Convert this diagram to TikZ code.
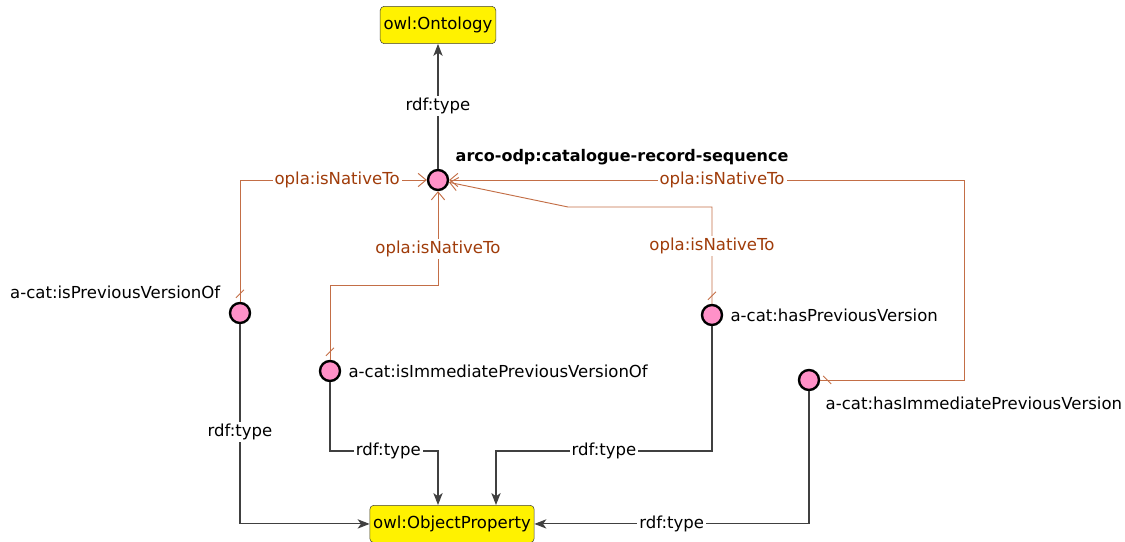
\documentclass[tikz,border=0pt]{standalone}
\usepackage{fontspec}
\setmainfont{DejaVu Sans}
\usetikzlibrary{arrows.meta,positioning,calc}
\definecolor{natline}{RGB}{195,110,70}
\definecolor{nattext}{RGB}{160,60,10}
\definecolor{dotpink}{RGB}{255,145,200}
\tikzstyle{classbox} = [draw=black!75, fill=yellow, rounded corners=3pt,
    inner xsep=2.5pt, minimum height=28pt]
\tikzstyle{propdot} = [circle, draw=black, line width=1.8pt, fill=dotpink,
    minimum size=15pt, inner sep=0pt]
\tikzstyle{typeline} = [draw=black!75, line width=0.8pt,
    -{Stealth[length=9pt,width=7pt,inset=2.5pt]}]
\tikzstyle{nativeline} = [draw=natline, line width=0.7pt,
    -{Straight Barb[length=6pt,width=10pt]}]
\tikzstyle{edgelabel} = [fill=white, inner sep=1.5pt]
\tikzstyle{nativelabel} = [edgelabel, text=nattext]
\newcommand{\nattick}[3]{\draw[natline, line width=0.7pt] #1 ++#2 -- ++#3;}

\begin{document}
\begin{tikzpicture}[x=0.75pt, y=-0.75pt, font=\fontsize{12.4}{14}\selectfont]
\useasboundingbox (0,0) rectangle (1125,542);
% classes
\node[classbox] (onto) at (438,25) {owl:Ontology};
\node[classbox, anchor=north] (objprop) at (452,505) {owl:ObjectProperty};
% ontology and properties
\node[propdot] (cat) at (438,180) {};
\node[anchor=west, font=\fontsize{12}{14}\selectfont\bfseries] (catlbl) at (451,157) {arco-odp:catalogue-record-sequence};
\node[propdot] (pvo) at (240,313) {};
\node[anchor=east] (pvolbl) at (225,292) {a-cat:isPreviousVersionOf};
\node[propdot] (ipvo) at (330,371) {};
\node[right=2pt of ipvo] (ipvolbl) {a-cat:isImmediatePreviousVersionOf};
\node[propdot] (hpv) at (712,315) {};
\node[right=2pt of hpv] (hpvlbl) {a-cat:hasPreviousVersion};
\node[propdot] (hipv) at (809,380) {};
\node[anchor=west] (hipvlbl) at (821,403) {a-cat:hasImmediatePreviousVersion};
% bends
\coordinate (bend1) at (438,285);
\coordinate (bend2) at (568,207);
\coordinate (bend3) at (964,180);
\coordinate (bend4) at (438,451);
\coordinate (bend5) at (496,451);
% opla:isNativeTo
\draw[nativeline] (pvo) |- node[nativelabel, pos=0.76] {opla:isNativeTo} (cat);
\draw[nativeline] (ipvo) |- (bend1) -- node[nativelabel, pos=0.38] {opla:isNativeTo} (cat);
\draw[nativeline] (hpv) -- node[nativelabel, pos=0.6] {opla:isNativeTo} (hpv |- bend2) -- (bend2) -- (cat);
\draw[nativeline] (hipv) -| (bend3) -- node[nativelabel, pos=0.47] {opla:isNativeTo} (cat);
\nattick{($(pvo.north)+(0,-8)$)}{(-4,4)}{(8,-8)}
\nattick{($(ipvo.north)+(0,-8)$)}{(-4,4)}{(8,-8)}
\nattick{($(hpv.north)+(0,-8)$)}{(-4,4)}{(8,-8)}
\nattick{($(hipv.east)+(7,0)$)}{(-4,-4)}{(8,8)}
% rdf:type
\draw[typeline] (cat) -- node[edgelabel] {rdf:type} (onto);
\draw[typeline] (pvo) |- node[edgelabel, pos=0.27] {rdf:type} (objprop);
\draw[typeline] (ipvo) |- node[edgelabel, pos=0.77] {rdf:type} (bend4) -- (bend4 |- objprop.north);
\draw[typeline] (hpv) |- node[edgelabel, pos=0.75] {rdf:type} (bend5) -- (bend5 |- objprop.north);
\draw[typeline] (hipv) |- node[edgelabel, pos=0.75] {rdf:type} (objprop);
\end{tikzpicture}
\end{document}
